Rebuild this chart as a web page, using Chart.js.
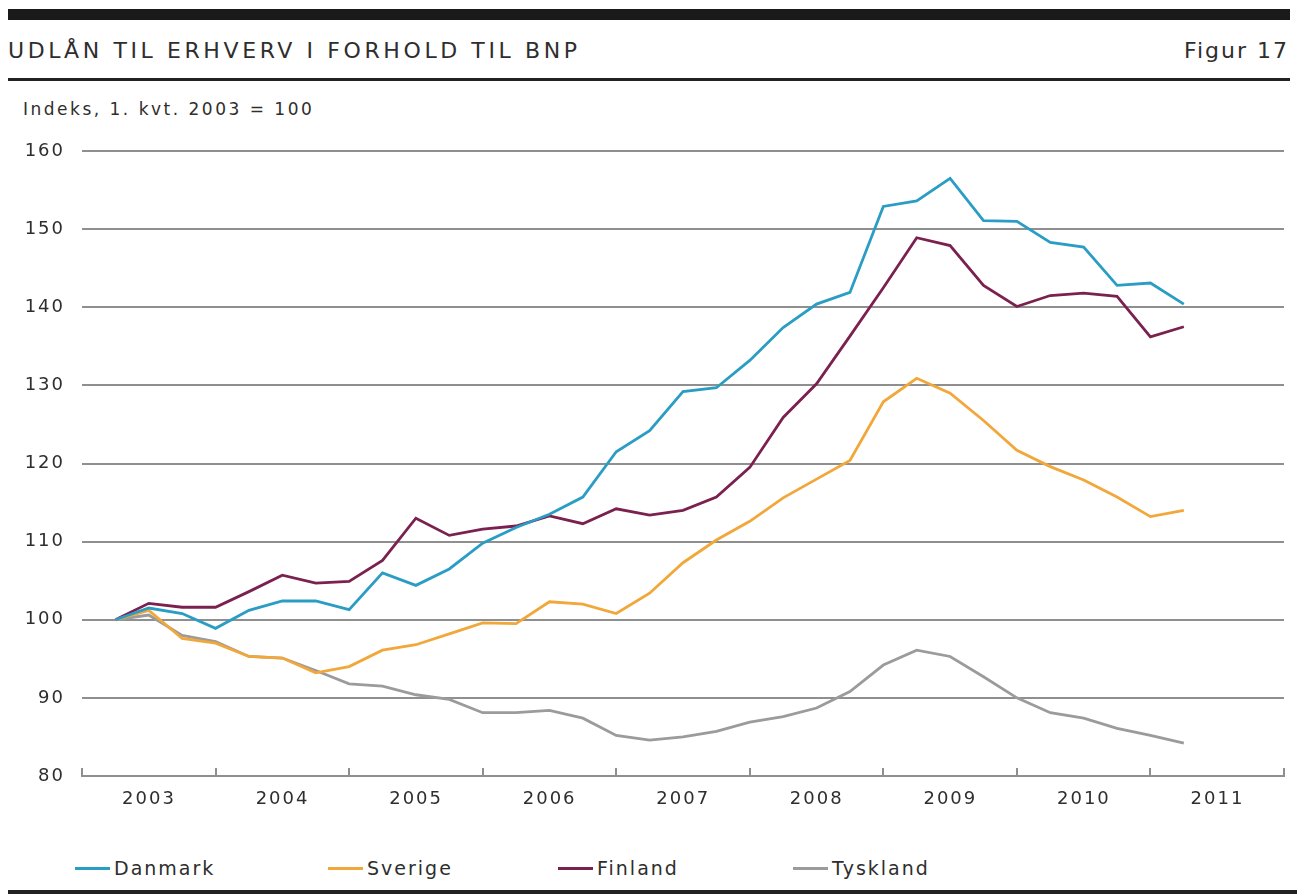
<!DOCTYPE html>
<html lang="da">
<head>
<meta charset="utf-8">
<title>Udlån til erhverv i forhold til BNP</title>
<script src="https://cdn.jsdelivr.net/npm/chart.js@4.4.1/dist/chart.umd.min.js"></script>
<style>
    html, body { margin: 0; padding: 0; background: #fff; }
    body { width: 1297px; height: 894px; position: relative; overflow: hidden;
           font-family: "DejaVu Sans", sans-serif; color: #2e2e2e; }
    .bar-top { position: absolute; left: 8px; top: 9px; width: 1282px; height: 11px; background: #1a1a1a; }
    .rule { position: absolute; left: 8px; top: 78px; width: 1282px; height: 3px; background: #222; }
    .rule-bottom { position: absolute; left: 8px; top: 890px; width: 1289px; height: 4px; background: #222; }
    .title { position: absolute; left: 8px; top: 38px; font-size: 22px; letter-spacing: 3.6px; white-space: nowrap; }
    .figno { position: absolute; right: 8px; top: 38px; font-size: 22px; letter-spacing: 2px; white-space: nowrap; }
    .unit { position: absolute; left: 23px; top: 99px; font-size: 17px; letter-spacing: 2.5px; white-space: nowrap; }
    #chartBox { position: absolute; left: 0; top: 120px; width: 1297px; height: 730px; }
    .legend { position: absolute; left: 75px; top: 856px; height: 24px; }
    .legend-item { position: absolute; top: 0; display: flex; align-items: center; height: 24px;
                   font-size: 19px; letter-spacing: 2px; white-space: nowrap; }
    .legend-line { width: 35px; height: 3px; margin-right: 4px; }
</style>
</head>
<body>
<div class="bar-top"></div>
<div class="title">UDLÅN TIL ERHVERV I FORHOLD TIL BNP</div>
<div class="figno">Figur 17</div>
<div class="rule"></div>
<div class="unit">Indeks, 1. kvt. 2003 = 100</div>
<div id="chartBox"><canvas id="chart"></canvas></div>
<div class="legend" id="legend"></div>
<div class="rule-bottom"></div>

<script>
// Quarters (point placed at end of each quarter)
const quarters = [
    '2003K1', '2003K2', '2003K3', '2003K4',
    '2004K1', '2004K2', '2004K3', '2004K4',
    '2005K1', '2005K2', '2005K3', '2005K4',
    '2006K1', '2006K2', '2006K3', '2006K4',
    '2007K1', '2007K2', '2007K3', '2007K4',
    '2008K1', '2008K2', '2008K3', '2008K4',
    '2009K1', '2009K2', '2009K3', '2009K4',
    '2010K1', '2010K2', '2010K3', '2010K4',
    '2011K1'
];

// Series values, index 1. kvt. 2003 = 100
const danmark = [100, 101.5, 100.8, 98.9, 101.2, 102.4, 102.4, 101.3, 106.0, 104.4, 106.5, 109.8, 111.8,
    113.5, 115.7, 121.5, 124.2, 129.2, 129.7, 133.2, 137.4, 140.4, 141.9, 152.9, 153.6, 156.5,
    151.1, 151.0, 148.3, 147.7, 142.8, 143.1, 140.4];
const sverige = [100, 101.2, 97.6, 97.0, 95.3, 95.1, 93.2, 94.0, 96.1, 96.8, 98.2, 99.6, 99.5,
    102.3, 102.0, 100.8, 103.4, 107.3, 110.2, 112.6, 115.6, 118.0, 120.4, 127.9, 130.9, 129.0,
    125.5, 121.7, 119.6, 117.9, 115.7, 113.2, 114.0];
const finland = [100, 102.1, 101.6, 101.6, 103.6, 105.7, 104.7, 104.9, 107.6, 113.0, 110.8, 111.6, 112.0,
    113.3, 112.3, 114.2, 113.4, 114.0, 115.7, 119.5, 125.9, 130.2, 136.3, 142.5, 148.9, 147.9,
    142.8, 140.1, 141.5, 141.8, 141.4, 136.2, 137.5];
const tyskland = [100, 100.6, 98.0, 97.2, 95.3, 95.1, 93.5, 91.8, 91.5, 90.4, 89.8, 88.1, 88.1,
    88.4, 87.4, 85.2, 84.6, 85.0, 85.7, 86.9, 87.6, 88.7, 90.8, 94.2, 96.1, 95.3,
    92.7, 90.0, 88.1, 87.4, 86.1, 85.2, 84.2];

// Axis ticks
const yearTicks = [2003, 2004, 2005, 2006, 2007, 2008, 2009, 2010, 2011, 2012];
const yTicks = [80, 90, 100, 110, 120, 130, 140, 150, 160];

const seriesNames = ['Danmark', 'Sverige', 'Finland', 'Tyskland'];
const seriesValues = [danmark, sverige, finland, tyskland];
const seriesColors = ['#2a9dc4', '#f2a73a', '#7a2150', '#9b9b9b'];

// "2005K3" -> 2005.75 (end of quarter)
function quarterToX(q) {
    const year = parseInt(q.slice(0, 4));
    const k = parseInt(q.slice(5));
    return year + k * 0.25;
}

document.addEventListener('DOMContentLoaded', function() {
    const datasets = seriesNames.map((name, i) => ({
        label: name,
        data: seriesValues[i].map((v, j) => ({ x: quarterToX(quarters[j]), y: v })),
        borderColor: seriesColors[i],
        backgroundColor: seriesColors[i],
        borderWidth: 2.8,
        pointRadius: 0,
        tension: 0,
        fill: false
    }));

    // canvas text gets the same slight tracking as the printed figure
    const trackingPlugin = {
        id: 'tracking',
        beforeLayout(chart) { chart.ctx.letterSpacing = '2px'; },
        beforeDraw(chart) { chart.ctx.letterSpacing = '2px'; }
    };

    // small inward tick marks on the x axis at year boundaries
    const yearMarks = {
        id: 'yearMarks',
        beforeDatasetsDraw(chart) {
            const ctx = chart.ctx;
            const xs = chart.scales.x;
            const bottom = chart.chartArea.bottom;
            ctx.save();
            ctx.strokeStyle = '#8f8f8f';
            ctx.lineWidth = 2;
            yearTicks.forEach(year => {
                const px = Math.round(xs.getPixelForValue(year));
                ctx.beginPath();
                ctx.moveTo(px, bottom);
                ctx.lineTo(px, bottom - 8);
                ctx.stroke();
            });
            ctx.restore();
        }
    };

    const ctx = document.getElementById('chart').getContext('2d');
    new Chart(ctx, {
        type: 'line',
        data: { datasets: datasets },
        options: {
            responsive: true,
            maintainAspectRatio: false,
            animation: false,
            layout: { padding: { top: 31, right: 13, left: 0, bottom: 0 } },
            plugins: {
                legend: { display: false },
                tooltip: { enabled: false }
            },
            scales: {
                x: {
                    type: 'linear',
                    min: yearTicks[0],
                    max: yearTicks[yearTicks.length - 1],
                    afterBuildTicks(scale) {
                        scale.ticks = yearTicks.map(v => ({ value: v }));
                    },
                    afterFit(scale) { scale.height = 74; },
                    grid: { display: true, drawOnChartArea: false, drawTicks: false },
                    border: { display: true, color: '#8f8f8f', width: 2 },
                    ticks: {
                        autoSkip: false,
                        maxRotation: 0,
                        padding: 13,
                        labelOffset: 67,
                        color: '#2e2e2e',
                        font: { family: 'DejaVu Sans', size: 18 },
                        callback: function(value) {
                            return value < yearTicks[yearTicks.length - 1] ? String(value) : '';
                        }
                    }
                },
                y: {
                    min: yTicks[0],
                    max: yTicks[yTicks.length - 1],
                    afterBuildTicks(scale) {
                        scale.ticks = yTicks.map(v => ({ value: v }));
                    },
                    afterFit(scale) { scale.width = 82; },
                    grid: { color: '#8f8f8f', lineWidth: 2, drawTicks: false },
                    border: { display: false },
                    ticks: {
                        padding: 17,
                        color: '#2e2e2e',
                        font: { family: 'DejaVu Sans', size: 18 }
                    }
                }
            }
        },
        plugins: [trackingPlugin, yearMarks]
    });

    // Legend
    const legend = document.getElementById('legend');
    const legendLeft = [0, 253, 483, 718];
    seriesNames.forEach((name, i) => {
        const item = document.createElement('div');
        item.className = 'legend-item';
        item.style.left = legendLeft[i] + 'px';
        const line = document.createElement('span');
        line.className = 'legend-line';
        line.style.background = seriesColors[i];
        const text = document.createElement('span');
        text.textContent = name;
        item.appendChild(line);
        item.appendChild(text);
        legend.appendChild(item);
    });
});
</script>
</body>
</html>
